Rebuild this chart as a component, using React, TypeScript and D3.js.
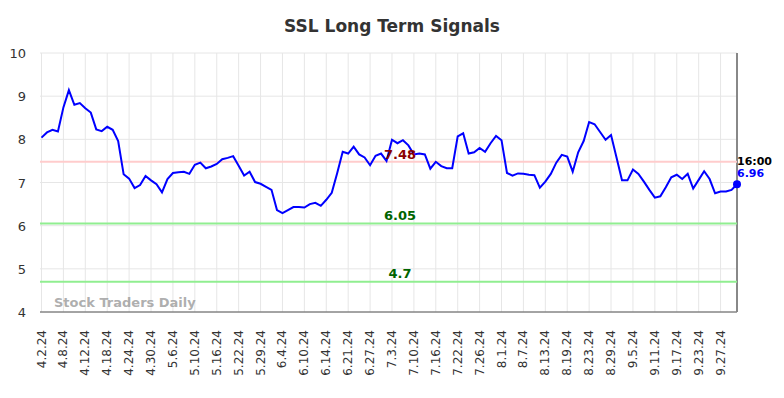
import * as d3 from "d3";

const W = 784;
const H = 398;
const marginLeft = 41.5;
const marginRight = 47;
const marginTop = 53;
const marginBottom = 86;

// trading-day labels, one every 4 sessions
const tickLabels = [
  "4.2.24", "4.8.24", "4.12.24", "4.18.24", "4.24.24", "4.30.24", "5.6.24", "5.10.24",
  "5.16.24", "5.22.24", "5.29.24", "6.4.24", "6.10.24", "6.14.24", "6.21.24", "6.27.24",
  "7.3.24", "7.10.24", "7.16.24", "7.22.24", "7.26.24", "8.1.24", "8.7.24", "8.13.24",
  "8.19.24", "8.23.24", "8.29.24", "9.5.24", "9.11.24", "9.17.24", "9.23.24", "9.27.24",
];
const tickStep = 4;

// daily closes, 4.2.24 .. 10.2.24
const prices = [
  8.04, 8.16, 8.22, 8.18, 8.74, 9.14, 8.8, 8.84, 8.72, 8.62,
  8.23, 8.19, 8.29, 8.22, 7.96, 7.19, 7.09, 6.87, 6.94, 7.15,
  7.05, 6.96, 6.77, 7.08, 7.22, 7.24, 7.25, 7.2, 7.41, 7.46,
  7.33, 7.37, 7.43, 7.54, 7.57, 7.61, 7.39, 7.16, 7.25, 7.01,
  6.97, 6.9, 6.83, 6.36, 6.29, 6.36, 6.43, 6.43, 6.42, 6.5,
  6.53, 6.46, 6.6, 6.76, 7.22, 7.71, 7.67, 7.83, 7.65, 7.58,
  7.4, 7.62, 7.67, 7.5, 7.99, 7.91, 7.98, 7.86, 7.65, 7.67,
  7.65, 7.32, 7.48, 7.38, 7.33, 7.33, 8.07, 8.14, 7.67, 7.7,
  7.8, 7.71, 7.91, 8.08, 7.98, 7.22, 7.16, 7.21, 7.2, 7.18,
  7.17, 6.88, 7.02, 7.2, 7.46, 7.64, 7.6, 7.25, 7.7, 7.96,
  8.4, 8.35, 8.17, 7.99, 8.1, 7.58, 7.05, 7.05, 7.3, 7.2,
  7.02, 6.83, 6.65, 6.68, 6.89, 7.12, 7.18, 7.08, 7.2, 6.86,
  7.06, 7.26, 7.08, 6.75, 6.79, 6.79, 6.83, 6.96,
];

const yTicks = [4, 5, 6, 7, 8, 9, 10];
const resistance = [7.48];
const supports = [6.05, 4.7];
const lastTime = "16:00";

const font = "DejaVu Sans, sans-serif";

const App = () => {
  const x = d3
    .scaleLinear()
    .domain([0, prices.length - 1])
    .range([marginLeft, W - marginRight]);
  const y = d3
    .scaleLinear()
    .domain([4, 10])
    .range([H - marginBottom, marginTop]);

  const plotLeft = 40;
  const plotRight = W - marginRight;
  const plotBottom = H - marginBottom;

  const line = d3
    .line<number>()
    .x((_, i) => x(i))
    .y((d) => y(d));

  const last = prices.length - 1;
  const labelX = 400;

  return (
    <svg
      width={W}
      height={H}
      style={{ position: "absolute", left: 0, top: 0, background: "#fff" }}
      fontFamily={font}
    >
      {/* title */}
      <text x={W / 2} y={32} textAnchor="middle" fontSize={17} fontWeight="bold" fill="#333">
        SSL Long Term Signals
      </text>

      {/* grid */}
      <g className="grid">
        {yTicks.map((t) => (
          <line key={t} x1={plotLeft} x2={plotRight} y1={y(t)} y2={y(t)} stroke="#e6e6e6" />
        ))}
        {tickLabels.map((lab, k) => (
          <line
            key={lab}
            x1={x(k * tickStep)}
            x2={x(k * tickStep)}
            y1={marginTop}
            y2={plotBottom}
            stroke="#e6e6e6"
          />
        ))}
      </g>

      {/* y labels */}
      <g className="y-axis">
        {yTicks.map((t) => (
          <text key={t} x={26} y={y(t) + 5} textAnchor="end" fontSize={13} fill="#333">
            {t}
          </text>
        ))}
      </g>

      {/* x labels */}
      <g className="x-axis">
        {tickLabels.map((lab, k) => (
          <text
            key={lab}
            transform={`translate(${x(k * tickStep) + 4},${plotBottom + 18}) rotate(-90)`}
            textAnchor="end"
            fontSize={12}
            fill="#333"
          >
            {lab}
          </text>
        ))}
      </g>

      {/* axis frame */}
      <line x1={plotLeft} x2={plotRight} y1={plotBottom} y2={plotBottom} stroke="#555" />
      <line x1={plotRight} x2={plotRight} y1={marginTop} y2={plotBottom} stroke="#888" strokeWidth={2} />

      {/* signal lines */}
      {resistance.map((v) => (
        <line key={v} x1={plotLeft} x2={plotRight} y1={y(v)} y2={y(v)} stroke="#ffcccc" strokeWidth={2} />
      ))}
      {supports.map((v) => (
        <line key={v} x1={plotLeft} x2={plotRight} y1={y(v)} y2={y(v)} stroke="#90ee90" strokeWidth={2} />
      ))}

      {/* watermark */}
      <text x={54} y={307} fontSize={13} fontWeight="bold" fill="#999" fillOpacity={0.8}>
        Stock Traders Daily
      </text>

      {/* price line */}
      <path d={line(prices) ?? ""} fill="none" stroke="#0000ff" strokeWidth={2} />
      <circle cx={x(last)} cy={y(prices[last])} r={4} fill="#0000ff" />

      {/* level labels */}
      {resistance.map((v) => (
        <text key={v} x={labelX} y={y(v) - 3} textAnchor="middle" fontSize={13} fontWeight="bold" fill="#8b0000">
          {v}
        </text>
      ))}
      {supports.map((v) => (
        <text key={v} x={labelX} y={y(v) - 4} textAnchor="middle" fontSize={13} fontWeight="bold" fill="#006400">
          {v}
        </text>
      ))}

      {/* last value */}
      <text x={plotRight} y={165} fontSize={11} fontWeight="bold" fill="#000">
        {lastTime}
      </text>
      <text x={plotRight} y={177} fontSize={11} fontWeight="bold" fill="#0000ff">
        {prices[last]}
      </text>
    </svg>
  );
};

export default App;
